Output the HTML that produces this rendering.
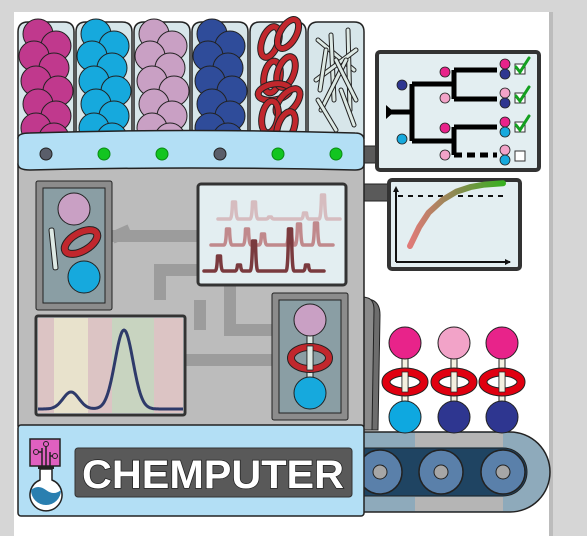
<!DOCTYPE html>
<html><head><meta charset="utf-8"><style>
html,body{margin:0;padding:0;background:#d6d6d6;}
svg{display:block;font-family:"Liberation Sans",sans-serif;}
</style></head><body>
<svg id="s" width="587" height="536" viewBox="0 0 587 536">
<rect x="0" y="0" width="587" height="536" fill="#d6d6d6"/>
<rect x="14" y="12" width="535" height="530" fill="#ffffff"/>
<rect x="549" y="12" width="4" height="530" fill="#bcbcbc"/>
<rect x="360" y="146" width="20" height="17" fill="#5a5a5a" stroke="#222"/>
<rect x="360" y="184" width="32" height="17" fill="#5a5a5a" stroke="#222"/>
<path d="M360 296 L372 300 Q380 303 380 315 L378 430 L360 430 Z" fill="#6d6d6d" stroke="#222"/>
<path d="M360 296 L368 298 Q374 300 374 310 L372 430 L360 430 Z" fill="#8a8a8a" stroke="#222"/>
<rect x="18" y="160" width="346" height="270" rx="4" fill="#bcbcbc" stroke="#222" stroke-width="1.5"/>
<g fill="none" stroke="#9c9c9c" stroke-width="12">
<path d="M112 236 H200"/><path d="M112 238 L130 230"/>
<path d="M160 300 V270 H200"/><path d="M230 284 V330 H275"/><path d="M185 360 H275"/>
<path d="M200 330 V300"/>
</g>
<g id="tubes"></g>
<path d="M18 138 Q18 133 30 133 Q190 128 355 133 Q364 133 364 140 V164 Q364 170 355 170 Q190 166 30 170 Q18 170 18 164 Z" fill="#b3dff5" stroke="#222" stroke-width="1.5"/>
<g id="dots"></g>
<rect x="36" y="181" width="76" height="129" rx="2" fill="#8c8c8c" stroke="#222"/>
<rect x="43" y="188" width="62" height="115" fill="#8a9ea4" stroke="#222"/>
<circle cx="74" cy="209" r="16" fill="#c9a0c4" stroke="#222"/>
<rect x="51" y="228" width="5" height="42" rx="2" transform="rotate(-6 53 249)" fill="#dde9e4" stroke="#222"/>
<ellipse cx="81" cy="242" rx="18" ry="9" transform="rotate(-30 81 242)" fill="none" stroke="#222" stroke-width="8"/>
<ellipse cx="81" cy="242" rx="18" ry="9" transform="rotate(-30 81 242)" fill="none" stroke="#c1272d" stroke-width="6"/>
<circle cx="84" cy="277" r="16" fill="#16a9dd" stroke="#222"/>
<rect x="198" y="184" width="148" height="101" rx="3" fill="#e3eef1" stroke="#333" stroke-width="3"/>
<g id="spec"></g>
<rect x="36" y="316" width="149" height="99" rx="2" fill="#e3eef1" stroke="#333" stroke-width="3"/>
<rect x="38" y="318" width="16" height="95" fill="#dcc4c4"/>
<rect x="54" y="318" width="34" height="95" fill="#e8e2cc"/>
<rect x="88" y="318" width="24" height="95" fill="#dcc4c4"/>
<rect x="112" y="318" width="42" height="95" fill="#c8d4c0"/>
<rect x="154" y="318" width="29" height="95" fill="#dcc4c4"/>
<path id="chrom" fill="none" stroke="#2e3a6a" stroke-width="3"/>
<rect x="272" y="293" width="76" height="127" rx="2" fill="#8c8c8c" stroke="#222"/>
<rect x="279" y="300" width="62" height="113" fill="#8a9ea4" stroke="#222"/>
<rect x="307" y="330" width="6" height="60" fill="#dde9e4" stroke="#222"/>
<circle cx="310" cy="320" r="16" fill="#c9a0c4" stroke="#222"/>
<circle cx="310" cy="393" r="16" fill="#16a9dd" stroke="#222"/>
<ellipse cx="310" cy="358" rx="19" ry="11" fill="none" stroke="#222" stroke-width="8"/>
<ellipse cx="310" cy="358" rx="19" ry="11" fill="none" stroke="#c1272d" stroke-width="6"/>
<rect x="307" y="346" width="6" height="24" fill="#dde9e4" stroke="#222" stroke-width="0.8"/>
<path d="M360 432 H510 A40 40 0 0 1 510 512 H360 Z" fill="#8eaabb" stroke="#222" stroke-width="1.5"/>
<rect x="415" y="433" width="88" height="14" fill="#b5b5b5"/><rect x="415" y="497" width="88" height="14" fill="#b5b5b5"/>
<path d="M362 448 H503 A24 24 0 0 1 503 496 H362 Z" fill="#1f4462" stroke="#222"/>
<g id="rollers"></g>
<g id="lollies"></g>
<rect x="18" y="425" width="346" height="91" rx="3" fill="#b3dff5" stroke="#222" stroke-width="1.5"/>
<g>
<rect x="30" y="439" width="30" height="27" fill="#e060c0" stroke="#222" stroke-width="1.5"/>
<path d="M42 466 V448 M46 466 V445 M50 466 V452 M42 452 H36 M50 456 H55" stroke="#222" stroke-width="1.5" fill="none"/>
<circle cx="36" cy="452" r="2.5" fill="#e060c0" stroke="#222"/><circle cx="46" cy="444" r="2.5" fill="#e060c0" stroke="#222"/><circle cx="55" cy="456" r="2.5" fill="#e060c0" stroke="#222"/>
<rect x="38" y="466" width="16" height="3" fill="#222"/>
<path d="M40 469 V480 A16 16 0 1 0 52 480 V469 Z" fill="#fff" stroke="#222" stroke-width="1.5"/>
<path d="M31 490 Q38 484 46 490 T61 490 A15 15 0 0 1 31 490 Z" fill="#2a7fb0"/>
</g>
<rect x="75" y="448" width="277" height="49" rx="3" fill="#595959" stroke="#333"/>
<text x="213" y="488" text-anchor="middle" font-size="40" font-weight="bold" fill="#fff" stroke="#222" stroke-width="1.5" paint-order="stroke" textLength="262" lengthAdjust="spacingAndGlyphs">CHEMPUTER</text>
<rect x="377" y="52" width="162" height="118" rx="3" fill="#e3eef1" stroke="#333" stroke-width="4"/>
<g stroke="#000" stroke-width="5" fill="none">
<path d="M387 112 H412 M412 84 V141 M412 84 H454 M412 141 H454 M454 70 V99 M454 70 H497 M454 99 H497 M454 127 V155 M454 127 H497"/>
<path d="M454 155 H497" stroke-dasharray="8 5"/>
</g>
<path d="M386 105 L394 112 L386 119 Z" fill="#000"/>
<g id="treedots"></g>
<rect x="389" y="180" width="131" height="89" rx="3" fill="#e3eef1" stroke="#333" stroke-width="4"/>
<defs><linearGradient id="cg" x1="0" x2="1"><stop offset="0" stop-color="#e07a78"/><stop offset="0.5" stop-color="#8a8a50"/><stop offset="1" stop-color="#38b020"/></linearGradient></defs>
<path d="M396 262 V190 M396 262 H510" stroke="#111" stroke-width="2" fill="none"/>
<path d="M393 192 L396 186 L399 192 Z M505 259 L511 262 L505 265 Z" fill="#111"/>
<path d="M398 196 H506" stroke="#111" stroke-width="2" stroke-dasharray="5 5"/>
<path id="curve" fill="none" stroke="url(#cg)" stroke-width="6" stroke-linecap="round"/>
</svg>
<script>
const NS='http://www.w3.org/2000/svg';
function el(tag,attrs,parent){const e=document.createElementNS(NS,tag);for(const k in attrs)e.setAttribute(k,attrs[k]);(parent||document.getElementById('s')).appendChild(e);return e;}
const tubeColors=['#c0398d','#16a9dd','#c9a0c4','#2f4c9a','#c1272d','#dde9e4'];
const tubeKinds=['balls','balls','balls','balls','rings','sticks'];
const tg=document.getElementById('tubes');
tubeColors.forEach((c,i)=>{
  const x=18+i*58;
  const t=el('path',{d:`M${x} 138 V32 Q${x} 22 ${x+10} 22 H${x+46} Q${x+56} 22 ${x+56} 32 V138 Z`,fill:'#d7e6ea',stroke:'#222','stroke-width':1.5},tg);
  
  
  const cx=x+28;
  if(tubeKinds[i]==='balls'){
    const pos=[[-8,-2],[10,10],[-12,20],[8,32],[-10,45],[12,55],[-8,68],[10,80],[-10,92],[8,102]];
    pos.forEach(p=>el('circle',{cx:cx+p[0],cy:36+p[1],r:15,fill:c,stroke:'#222','stroke-width':1},tg));
  } else if(tubeKinds[i]==='rings'){
    const pos=[[-8,20,-70],[10,12,-60],[-6,55,-80],[8,50,-70],[-4,70,-10],[10,80,-50],[-8,95,-80],[8,105,-70],[0,125,0]];
    pos.forEach(p=>{el('ellipse',{cx:cx+p[0],cy:22+p[1],rx:16,ry:8,transform:`rotate(${p[2]} ${cx+p[0]} ${22+p[1]})`,fill:'none',stroke:'#222','stroke-width':7},tg);
      el('ellipse',{cx:cx+p[0],cy:22+p[1],rx:16,ry:8,transform:`rotate(${p[2]} ${cx+p[0]} ${22+p[1]})`,fill:'none',stroke:'#c1272d','stroke-width':5},tg);});
  } else {
    const s=[[-18,40,18,70],[-5,35,-2,100],[12,30,14,110],[-20,80,20,50],[-15,110,10,60],[0,60,20,100],[-18,100,0,130],[5,90,18,125],[-10,50,-16,90]];
    s.forEach(q=>{el('line',{x1:cx+q[0],y1:q[1],x2:cx+q[2],y2:q[3],stroke:'#222','stroke-width':5,'stroke-linecap':'round'},tg);
      el('line',{x1:cx+q[0],y1:q[1],x2:cx+q[2],y2:q[3],stroke:'#dde9e4','stroke-width':3,'stroke-linecap':'round'},tg);});
  }
});
const valveState=[0,1,1,0,1,1];
valveState.forEach((v,i)=>{
  const d=el('circle',{cx:46+i*58,cy:154,r:6,fill:v?'#12c520':'#5a5e6a',stroke:v?'#0a8a14':'#222'},document.getElementById('s'));
  
  
});
const specBase=[219,245,271];
const specStart=[218,211,204];
const specEnd=[340,333,324];
const specColors=['#d6bcbf','#c0898c','#7a3a3e'];
const peakPos=[[234,254,270,305,323],[228,247,263,290,299,316],[219,239,254,290,307]];
const peakHt=[[17,17,2,6,24],[16,16,11,16,21,22],[15,6,30,42,6]];
const sg=document.getElementById('spec');
specBase.forEach((b,r)=>{
  let d=`M${specStart[r]} ${b}`;
  peakPos[r].forEach((p,k)=>{const h=peakHt[r][k];d+=` L${p-4} ${b} Q${p-2} ${b} ${p-1.5} ${b-h} L${p+1.5} ${b-h} Q${p+2} ${b} ${p+4} ${b}`;});
  d+=` L${specEnd[r]} ${b}`;
  const pth=el('path',{d,fill:'none',stroke:specColors[r],'stroke-width':3.5,'stroke-linejoin':'round','stroke-linecap':'round'},sg);
  
  
});
const chromPeakX=[71,124];
const chromPeakH=[17,79];
const chromPeakW=[8,9];
let cd='';
for(let x=38;x<=183;x++){let y=0;chromPeakX.forEach((p,k)=>{y+=chromPeakH[k]*Math.exp(-Math.pow((x-p)/chromPeakW[k],2)/2);});cd+=(x===38?'M':'L')+x+' '+(409-y).toFixed(1)+' ';}
document.getElementById('chrom').setAttribute('d',cd);
const rg=document.getElementById('rollers');
[380,441,503].forEach((x,i)=>{
  const r=el('circle',{cx:x,cy:472,r:22,fill:'#5a80aa',stroke:'#222','stroke-width':1.5},rg);
  
  
  el('circle',{cx:x,cy:472,r:7,fill:'#a6a6a6',stroke:'#222'},rg);
});
const lg=document.getElementById('lollies');
const lolTop=['#e8238a','#f2a3c8','#e8238a'];
const lolBot=['#0ea8e0','#2e3690','#2e3690'];
[405,454,502].forEach((x,i)=>{
  el('rect',{x:x-3,y:355,width:6,height:50,fill:'#f4f0e0',stroke:'#222'},lg);
  el('ellipse',{cx:x,cy:382,rx:19,ry:10,fill:'none',stroke:'#222','stroke-width':9},lg);
  el('ellipse',{cx:x,cy:382,rx:19,ry:10,fill:'none',stroke:'#e00010','stroke-width':7},lg);
  el('rect',{x:x-3,y:372,width:6,height:20,fill:'#f4f0e0',stroke:'#222','stroke-width':0.7},lg);
  el('circle',{cx:x,cy:343,r:16,fill:lolTop[i],stroke:'#222'},lg);
  const b=el('circle',{cx:x,cy:417,r:16,fill:lolBot[i],stroke:'#222'},lg);
  
  
});
const tdg=document.getElementById('treedots');
const tdots=[[402,85,'#2e3690'],[402,139,'#16a9dd'],[445,72,'#e8238a'],[445,98,'#f2a3c8'],[445,128,'#e8238a'],[445,155,'#f2a3c8'],
[505,64,'#e8238a'],[505,74,'#2e3690'],[505,93,'#f2a3c8'],[505,103,'#2e3690'],[505,122,'#e8238a'],[505,132,'#16a9dd'],[505,150,'#f2a3c8'],[505,160,'#16a9dd']];
tdots.forEach(d=>el('circle',{cx:d[0],cy:d[1],r:5,fill:d[2],stroke:'#222','stroke-width':0.8},tdg));
[69,98,127,156].forEach((y,i)=>{
  const b=el('rect',{x:515,y:y-5,width:10,height:10,fill:'#fff',stroke:'#333'},tdg);
  
  
  if(i<3)el('path',{d:`M516 ${y-2} L520 ${y+3} L529 ${y-11}`,fill:'none',stroke:'#14a020','stroke-width':3,'stroke-linecap':'round'},tdg);
});
const yieldX=[0,0.1,0.2,0.35,0.5,0.65,0.8,1];
const yieldY=[0,0.3,0.52,0.72,0.85,0.92,0.96,0.98];
const xs=v=>410+v*93, ys=v=>246-v*64;
document.getElementById('curve').setAttribute('d',yieldX.map((v,i)=>(i?'L':'M')+xs(v).toFixed(1)+' '+ys(yieldY[i]).toFixed(1)).join(' '));
</script>
</body></html>
